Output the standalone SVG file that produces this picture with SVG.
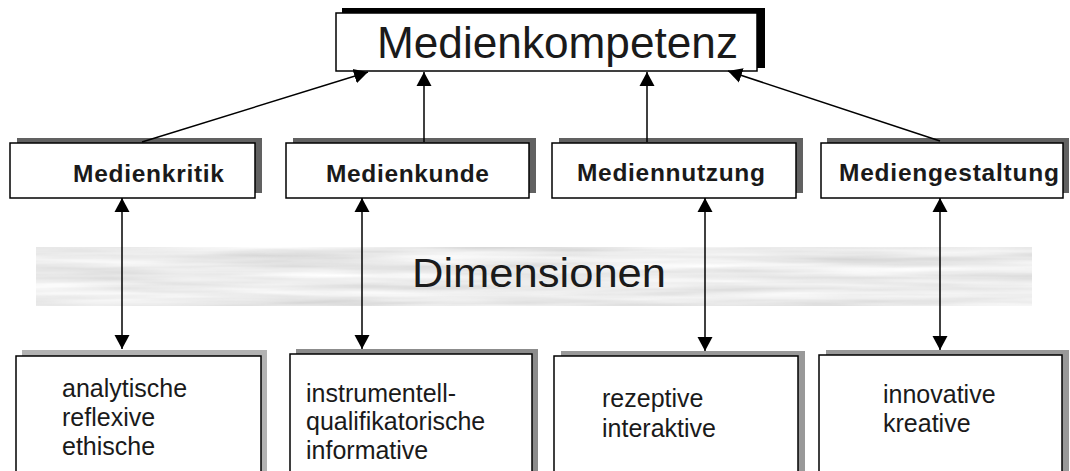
<svg xmlns="http://www.w3.org/2000/svg" width="1070" height="471" viewBox="0 0 1070 471">
<defs>
<marker id="ah" markerUnits="userSpaceOnUse" markerWidth="16" markerHeight="16" refX="14" refY="7.5" orient="auto-start-reverse" viewBox="0 0 16 15">
<path d="M0,0 L14,7.5 L0,15 z" fill="#000"/>
</marker>
<filter id="tex" x="0" y="0" width="100%" height="100%">
<feTurbulence type="fractalNoise" baseFrequency="0.005 0.11" numOctaves="3" seed="7" result="n"/>
<feColorMatrix in="n" type="matrix" values="0.42 0 0 0 0.63  0.42 0 0 0 0.63  0.42 0 0 0 0.63  0 0 0 0 1" result="g"/>
<feComposite in="g" in2="SourceGraphic" operator="in"/>
</filter>
<style>
.box{fill:#fff;stroke:#000;stroke-width:1.5}
.sh2{fill:#616161}
.lbl{font-family:"Liberation Sans",Arial,sans-serif;font-weight:bold;font-size:24.5px;fill:#1a1a1a}
.dim{font-family:"Liberation Sans",Arial,sans-serif;font-size:25px;fill:#1a1a1a}
.con{stroke:#000;stroke-width:1.5;fill:none}
</style>
</defs>
<rect width="1070" height="471" fill="#fff"/>

<g id="band">
<rect x="36" y="247" width="996" height="59" fill="#d9d9d9" filter="url(#tex)"/>
<text x="412" y="287" font-family="'Liberation Sans',Arial,sans-serif" font-size="40" fill="#1a1a1a" textLength="254" lengthAdjust="spacingAndGlyphs">Dimensionen</text>
</g>

<g id="medienkompetenz">
<rect x="342" y="8" width="423" height="60" fill="#000"/>
<rect class="box" x="336" y="13" width="421" height="58"/>
<text x="377" y="58" font-family="'Liberation Sans',Arial,sans-serif" font-size="44" fill="#1a1a1a" textLength="361" lengthAdjust="spacingAndGlyphs">Medienkompetenz</text>
</g>

<g id="medienkritik">
<rect class="sh2" x="17" y="138" width="245" height="55"/>
<rect class="box" x="10" y="143" width="245" height="55"/>
<text class="lbl" x="73" y="182" textLength="151" lengthAdjust="spacing">Medienkritik</text>
</g>
<g id="medienkunde">
<rect class="sh2" x="293" y="138" width="243" height="55"/>
<rect class="box" x="286" y="143" width="243" height="55"/>
<text class="lbl" x="326" y="182" textLength="163" lengthAdjust="spacing">Medienkunde</text>
</g>
<g id="mediennutzung">
<rect class="sh2" x="559" y="138" width="244" height="55"/>
<rect class="box" x="552" y="143" width="244" height="55"/>
<text class="lbl" x="577" y="181" textLength="188" lengthAdjust="spacing">Mediennutzung</text>
</g>
<g id="mediengestaltung">
<rect class="sh2" x="827" y="138" width="242" height="55"/>
<rect class="box" x="821" y="143" width="242" height="55"/>
<text class="lbl" x="839" y="181" textLength="220" lengthAdjust="spacing">Mediengestaltung</text>
</g>

<g id="kritik-dim">
<rect x="22" y="350" width="245" height="130" fill="#b3b3b3"/>
<rect class="box" x="16" y="356" width="245" height="130"/>
<text class="dim"><tspan x="62" y="397">analytische</tspan><tspan x="62" y="426">reflexive</tspan><tspan x="62" y="455">ethische</tspan></text>
</g>
<g id="kunde-dim">
<rect x="296" y="349" width="242" height="130" fill="#8c8c8c"/>
<rect class="box" x="290" y="354" width="242" height="130"/>
<text class="dim"><tspan x="306" y="402">instrumentell-</tspan><tspan x="306" y="430">qualifikatorische</tspan><tspan x="306" y="459">informative</tspan></text>
</g>
<g id="nutzung-dim">
<rect x="561" y="351" width="244" height="130" fill="#999"/>
<rect class="box" x="554" y="356" width="244" height="130"/>
<text class="dim"><tspan x="602" y="407">rezeptive</tspan><tspan x="602" y="437">interaktive</tspan></text>
</g>
<g id="gestaltung-dim">
<rect x="826" y="350" width="243" height="130" fill="#999"/>
<rect class="box" x="819" y="355" width="243" height="130"/>
<text class="dim"><tspan x="883" y="403">innovative</tspan><tspan x="883" y="432">kreative</tspan></text>
</g>

<g id="connectors">
<line class="con" x1="142" y1="142" x2="368" y2="72" marker-end="url(#ah)"/>
<line class="con" x1="424" y1="142" x2="424" y2="72" marker-end="url(#ah)"/>
<line class="con" x1="647" y1="142" x2="647" y2="72" marker-end="url(#ah)"/>
<line class="con" x1="940" y1="141" x2="728" y2="71" marker-end="url(#ah)"/>
<line class="con" x1="122" y1="198" x2="122" y2="349" marker-start="url(#ah)" marker-end="url(#ah)"/>
<line class="con" x1="362" y1="198" x2="362" y2="349" marker-start="url(#ah)" marker-end="url(#ah)"/>
<line class="con" x1="705" y1="198" x2="705" y2="351" marker-start="url(#ah)" marker-end="url(#ah)"/>
<line class="con" x1="940" y1="198" x2="940" y2="350" marker-start="url(#ah)" marker-end="url(#ah)"/>
</g>
</svg>
